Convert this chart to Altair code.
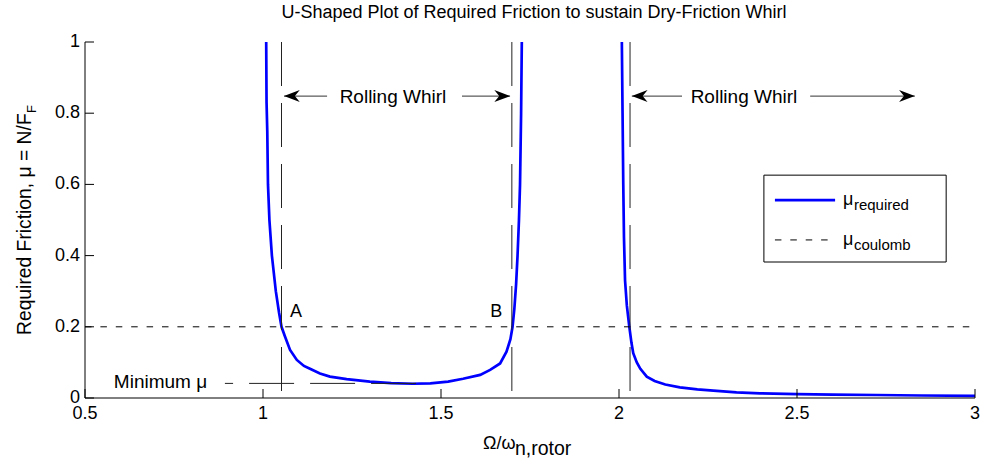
import altair as alt
import pandas as pd

FONT = "Liberation Sans"

# ---- data ----
u_x = [1.009, 1.010, 1.012, 1.014, 1.018, 1.025, 1.036, 1.045, 1.052, 1.062, 1.076, 1.095,
       1.115, 1.132, 1.160, 1.188, 1.235, 1.300, 1.360, 1.420, 1.470, 1.520, 1.562, 1.610,
       1.638, 1.666, 1.684, 1.695, 1.701, 1.706, 1.711, 1.715, 1.719, 1.722, 1.725, 1.727]
u_y = [1.0, 0.83, 0.75, 0.6, 0.5, 0.4, 0.3, 0.24, 0.2, 0.172, 0.135, 0.107,
       0.090, 0.082, 0.069, 0.060, 0.053, 0.046, 0.042, 0.040, 0.041, 0.046, 0.054, 0.065,
       0.079, 0.097, 0.13, 0.165, 0.2, 0.25, 0.32, 0.4, 0.5, 0.6, 0.8, 1.0]
r_x = [2.008, 2.010, 2.012, 2.014, 2.017, 2.022, 2.029, 2.035, 2.040, 2.050, 2.060, 2.078,
       2.100, 2.130, 2.171, 2.220, 2.265, 2.330, 2.396, 2.500, 2.600, 2.724, 2.850, 3.000]
r_y = [1.0, 0.8, 0.6, 0.45, 0.33, 0.26, 0.2, 0.155, 0.126, 0.100, 0.082, 0.060,
       0.048, 0.038, 0.030, 0.024, 0.0206, 0.016, 0.013, 0.011, 0.0095, 0.0084, 0.007, 0.006]

x_ticks = [0.5, 1, 1.5, 2, 2.5, 3]
x_labels = ["0.5", "1", "1.5", "2", "2.5", "3"]
y_ticks = [0, 0.2, 0.4, 0.6, 0.8, 1]
y_labels = ["0", "0.2", "0.4", "0.6", "0.8", "1"]

mu_coulomb = 0.2
mu_min = 0.041
vline_x = [1.052, 1.699, 2.031]
min_line = [1.43, 0.893]

arrow_y = 0.848
arrow_left = [(1.059, 1.180), (2.036, 2.177)]   # (tip, tail)
arrow_right = [(1.694, 1.559), (2.831, 2.537)]  # (tip, tail)
whirl_text_x = [1.365, 2.351]
whirl_text_y = 0.828
ab_labels = ["A", "B"]
ab_x = [1.076, 1.638]
ab_y = 0.2275
minimum_text = ("Minimum μ", 0.581, 0.027)

legend_box = (2.407, 2.919, 0.626, 0.382)
legend_rows_y = [0.556, 0.444]
legend_sample_x = (2.438, 2.607)
legend_text_x = 2.629
legend_main = ["μ", "μ"]
legend_sub = ["required", "coulomb"]

title = "U-Shaped Plot of Required Friction to sustain Dry-Friction Whirl"

# ---- tables ----
curve = pd.DataFrame({
    "x": u_x + r_x,
    "y": u_y + r_y,
    "branch": ["u"] * len(u_x) + ["r"] * len(r_x),
    "i": list(range(len(u_x))) + list(range(len(r_x))),
})

W, H = 890, 356
BLUE = "#0000FF"

xs = alt.Scale(domain=[0.5, 3], nice=False, zero=False)
ys = alt.Scale(domain=[0, 1], nice=False, zero=False)


def X(f):
    return alt.X(f, axis=None)


def Y(f):
    return alt.Y(f, axis=None)


base_curve = alt.Chart(curve).mark_line(color=BLUE, strokeWidth=2.7, clip=True).encode(
    x=alt.X("x:Q", scale=xs, axis=None),
    y=alt.Y("y:Q", scale=ys, axis=None),
    detail="branch:N",
    order="i:Q",
)

# axis lines, inward ticks and tick labels
dom = alt.Chart(pd.DataFrame({"x": [0.5, 0.5], "x2": [0.5, 3.0], "y": [0.0, 0.0], "y2": [1.0, 0.0]})).mark_rule(
    color="black", strokeWidth=1).encode(x=X("x:Q"), x2="x2:Q", y=Y("y:Q"), y2="y2:Q")
xt = alt.Chart(pd.DataFrame({"x": x_ticks})).mark_rule(color="black", strokeWidth=1).encode(
    x=X("x:Q"), y=alt.value(H), y2=alt.value(H - 9))
yt = alt.Chart(pd.DataFrame({"y": y_ticks})).mark_rule(color="black", strokeWidth=1).encode(
    y=Y("y:Q"), x=alt.value(0), x2=alt.value(9))
xl = alt.Chart(pd.DataFrame({"x": x_ticks, "t": x_labels})).mark_text(
    font=FONT, fontSize=18, color="black", align="center", baseline="top").encode(
    x=X("x:Q"), y=alt.value(H + 7), text="t:N")
yl = alt.Chart(pd.DataFrame({"y": y_ticks, "t": y_labels})).mark_text(
    font=FONT, fontSize=18, color="black", align="right", baseline="middle").encode(
    y=Y("y:Q"), x=alt.value(-5), text="t:N")

coul = alt.Chart(pd.DataFrame({"x": [0.5], "x2": [3.0], "y": [mu_coulomb]})).mark_rule(
    color="black", strokeWidth=1, strokeDash=[6.5, 8.9]).encode(x=X("x:Q"), x2="x2:Q", y=Y("y:Q"))

vl = alt.Chart(pd.DataFrame({"x": vline_x, "top": [1.0] * 3, "bot": [0.0] * 3})).mark_rule(
    color="#222222", strokeWidth=1, strokeDash=[44, 17]).encode(x=X("x:Q"), y=Y("top:Q"), y2="bot:Q")

minl = alt.Chart(pd.DataFrame({"x": [min_line[0]], "x2": [min_line[1]], "y": [mu_min]})).mark_rule(
    color="#222222", strokeWidth=1, strokeDash=[45, 16]).encode(x=X("x:Q"), x2="x2:Q", y=Y("y:Q"))

arr = pd.DataFrame({
    "tip": [a[0] for a in arrow_left] + [a[0] for a in arrow_right],
    "tail": [a[1] for a in arrow_left] + [a[1] for a in arrow_right],
    "y": [arrow_y] * 4,
})
arr_lines = alt.Chart(arr).mark_rule(color="#333333", strokeWidth=1).encode(
    x=X("tip:Q"), x2="tail:Q", y=Y("y:Q"))

LEFT_HEAD = "M0,0L2.1,-0.8L1.45,0L2.1,0.8Z"
RIGHT_HEAD = "M0,0L-2.1,-0.8L-1.45,0L-2.1,0.8Z"
heads_l = alt.Chart(pd.DataFrame({"x": [a[0] for a in arrow_left], "y": [arrow_y] * 2})).mark_point(
    shape=LEFT_HEAD, filled=True, size=225, color="black", opacity=1, strokeWidth=0).encode(
    x=X("x:Q"), y=Y("y:Q"))
heads_r = alt.Chart(pd.DataFrame({"x": [a[0] for a in arrow_right], "y": [arrow_y] * 2})).mark_point(
    shape=RIGHT_HEAD, filled=True, size=225, color="black", opacity=1, strokeWidth=0).encode(
    x=X("x:Q"), y=Y("y:Q"))

whirl = alt.Chart(pd.DataFrame({"x": whirl_text_x, "y": [whirl_text_y] * 2,
                                "t": ["Rolling Whirl"] * 2})).mark_text(
    font=FONT, fontSize=19, color="black", align="center", baseline="alphabetic").encode(
    x=X("x:Q"), y=Y("y:Q"), text="t:N")

ab = alt.Chart(pd.DataFrame({"x": ab_x, "y": [ab_y] * 2, "t": ab_labels})).mark_text(
    font=FONT, fontSize=18, color="black", align="left", baseline="alphabetic").encode(
    x=X("x:Q"), y=Y("y:Q"), text="t:N")

mint = alt.Chart(pd.DataFrame({"x": [minimum_text[1]], "y": [minimum_text[2]],
                               "t": [minimum_text[0]]})).mark_text(
    font=FONT, fontSize=19, color="black", align="left", baseline="alphabetic").encode(
    x=X("x:Q"), y=Y("y:Q"), text="t:N")

# legend built from marks
lbox = alt.Chart(pd.DataFrame({"x": [legend_box[0]], "x2": [legend_box[1]],
                               "y": [legend_box[2]], "y2": [legend_box[3]]})).mark_rect(
    fill="white", stroke="black", strokeWidth=1).encode(x=X("x:Q"), x2="x2:Q", y=Y("y:Q"), y2="y2:Q")
lsamp1 = alt.Chart(pd.DataFrame({"x": [legend_sample_x[0]], "x2": [legend_sample_x[1]],
                                 "y": [legend_rows_y[0]]})).mark_rule(color=BLUE, strokeWidth=2.7).encode(
    x=X("x:Q"), x2="x2:Q", y=Y("y:Q"))
lsamp2 = alt.Chart(pd.DataFrame({"x": [legend_sample_x[0]], "x2": [legend_sample_x[1]],
                                 "y": [legend_rows_y[1]]})).mark_rule(
    color="black", strokeWidth=1, strokeDash=[6.5, 8.9]).encode(x=X("x:Q"), x2="x2:Q", y=Y("y:Q"))
ltxt = alt.Chart(pd.DataFrame({"x": [legend_text_x] * 2, "y": legend_rows_y, "t": legend_main})).mark_text(
    font=FONT, fontSize=18, color="black", align="left", baseline="middle").encode(
    x=X("x:Q"), y=Y("y:Q"), text="t:N")
lsub = alt.Chart(pd.DataFrame({"x": [legend_text_x] * 2, "y": legend_rows_y, "t": legend_sub})).mark_text(
    font=FONT, fontSize=15, color="black", align="left", baseline="middle", dx=11, dy=5).encode(
    x=X("x:Q"), y=Y("y:Q"), text="t:N")

# titles (with subscripts) as text
one = pd.DataFrame({"a": [0]})
ttl = alt.Chart(one).mark_text(
    font=FONT, fontSize=18, color="black", align="center", baseline="alphabetic").encode(
    x=alt.value(449), y=alt.value(-24), text=alt.value(title))
ytitle = alt.Chart(one).mark_text(
    font=FONT, fontSize=19.3, color="black", angle=270, align="left", baseline="alphabetic").encode(
    x=alt.value(-54), y=alt.value(293), text=alt.value("Required Friction, μ = N/F"))
ysub = alt.Chart(one).mark_text(
    font=FONT, fontSize=13, color="black", angle=270, align="left", baseline="alphabetic").encode(
    x=alt.value(-49), y=alt.value(71), text=alt.value("F"))
xtitle = alt.Chart(one).mark_text(
    font=FONT, fontSize=18, color="black", align="left", baseline="alphabetic").encode(
    x=alt.value(398), y=alt.value(407), text=alt.value("Ω/ω"))
xsub = alt.Chart(one).mark_text(
    font=FONT, fontSize=19.5, color="black", align="left", baseline="alphabetic").encode(
    x=alt.value(430), y=alt.value(413), text=alt.value("n,rotor"))

chart = alt.layer(
    base_curve, coul, vl, minl, arr_lines, heads_l, heads_r, whirl, ab, mint,
    lbox, lsamp1, lsamp2, ltxt, lsub, dom, xt, yt, xl, yl, ttl, ytitle, ysub, xtitle, xsub,
).properties(
    width=W, height=H,
    autosize=alt.AutoSizeParams(type="none"),
    padding={"left": 85, "top": 42, "right": 9, "bottom": 60},
    background="white",
).configure_view(strokeWidth=0)

chart.save("out.html", embed_options={"renderer": "svg", "actions": False})
